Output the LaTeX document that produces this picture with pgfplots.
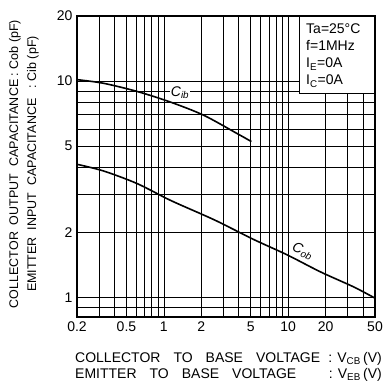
\documentclass[border=0pt]{standalone}
\usepackage{fontspec}
\setmainfont{Liberation Sans}
\usepackage{pgfplots}
\pgfplotsset{compat=1.18}
\begin{document}
\begin{tikzpicture}
\begin{axis}[
  at={(0pt,0pt)}, anchor=south west,
  scale only axis, width=298pt, height=301pt,
  xmode=log, ymode=log,
  xmin=0.2, xmax=50, ymin=0.81, ymax=20,
  xtick={0.2,0.5,1,2,5,10,20,50},
  xticklabels={0.2,0.5,1,2,5,10,20,50},
  minor xtick={0.3,0.4,0.6,0.7,0.8,0.9,3,4,6,7,8,9,30,40},
  ytick={1,2,5,10,20},
  yticklabels={1,2,5,10,20},
  minor ytick={0.9,3,4,6,7,8,9},
  grid=both,
  major grid style={black, line width=0.7pt},
  minor grid style={black, line width=0.7pt},
  major tick length=0pt, minor tick length=0pt,
  axis line style={line width=1.6pt},
  tick label style={font=\fontsize{14}{16}\selectfont},
  xticklabel style={yshift=-1pt},
  yticklabel style={xshift=-1pt},
  clip=false,
]
\addplot[black, line width=1.6pt, smooth] coordinates {
 (0.2,10.15) (0.326,9.77) (0.606,8.96) (1.125,8.0) (2.09,6.95) (3.88,5.72) (5.06,5.25)};
\addplot[black, line width=1.6pt, smooth] coordinates {
 (0.2,4.12) (0.326,3.84) (0.606,3.36) (1.125,2.81) (2.09,2.40) (2.85,2.21) (5.28,1.85) (9.82,1.57) (18.2,1.31) (33.8,1.115) (50,0.99)};
\node[fill=white, inner sep=1pt, font=\fontsize{14}{16}\selectfont\itshape] at (axis cs:1.35,8.85) {C\textsubscript{ib}};
\node[fill=white, inner sep=1pt, rotate=-22, font=\fontsize{14}{16}\selectfont\itshape] at (axis cs:13.1,1.63) {C\textsubscript{ob}};
\end{axis}
% condition box
\node[draw, line width=0.8pt, fill=white, anchor=north east, minimum width=75pt, minimum height=77pt, inner sep=0pt] at (298pt,301pt) {};
\node[anchor=north west, align=left, inner sep=0pt, font=\fontsize{14}{17}\selectfont] at (229pt,293pt)
 {Ta=25°C\\ f=1MHz\\ I\textsubscript{E}=0A\\ I\textsubscript{C}=0A};
% y label
\node[rotate=90, align=center, font=\fontsize{12.5}{18}\selectfont] at (-53pt,153pt)
 {COLLECTOR\ \ OUTPUT\ \ CAPACITANCE : Cob (pF)\\ EMITTER\ \ INPUT\ \ CAPACITANCE\ \ \ : Cib (pF)};
% x label
\node[anchor=base west, inner sep=0pt, font=\fontsize{14}{16}\selectfont] at (-2pt,-45pt)
 {COLLECTOR\hspace{13pt}TO\hspace{13pt}BASE\hspace{13pt}VOLTAGE};
\node[anchor=base west, inner sep=0pt, font=\fontsize{14}{16}\selectfont] at (-2pt,-61pt)
 {EMITTER\hspace{13pt}TO\hspace{13pt}BASE\hspace{13pt}VOLTAGE};
\node[anchor=base east, inner sep=0pt, font=\fontsize{14}{16}\selectfont] at (305pt,-45pt)
 {: V\textsubscript{CB}\,(V)};
\node[anchor=base east, inner sep=0pt, font=\fontsize{14}{16}\selectfont] at (305pt,-61pt)
 {: V\textsubscript{EB}\,(V)};
\path[use as bounding box] (-77pt,-70pt) rectangle (306pt,317pt);
\end{tikzpicture}
\end{document}
